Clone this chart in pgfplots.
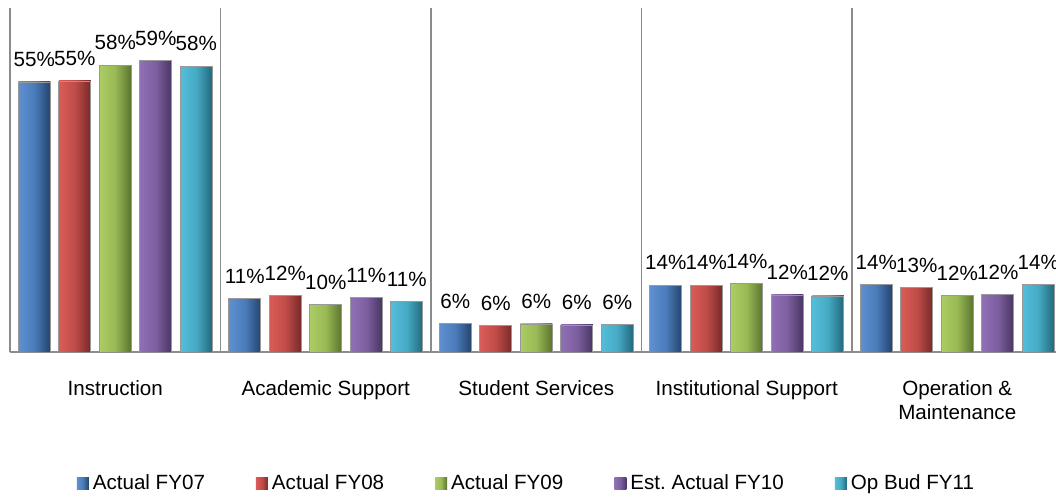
\documentclass[border=0pt]{standalone}
\usepackage{fontspec}
\setmainfont{Liberation Sans}
\usepackage{pgfplots}
\pgfplotsset{compat=1.18}
\usepackage{pgfplotstable}
\frenchspacing
\newcommand{\fs}{\fontsize{10.3}{11.6}\selectfont}
\definecolor{axgray}{RGB}{140,140,140}
\definecolor{bluL}{RGB}{95,145,210}\definecolor{bluM}{RGB}{74,124,186}\definecolor{bluD}{RGB}{36,68,110}
\definecolor{redL}{RGB}{218,92,88}\definecolor{redM}{RGB}{192,76,72}\definecolor{redD}{RGB}{120,42,40}
\definecolor{grnL}{RGB}{172,205,100}\definecolor{grnM}{RGB}{152,185,84}\definecolor{grnD}{RGB}{90,115,46}
\definecolor{purL}{RGB}{144,112,182}\definecolor{purM}{RGB}{125,95,160}\definecolor{purD}{RGB}{72,54,98}
\definecolor{cyaL}{RGB}{84,190,218}\definecolor{cyaM}{RGB}{70,170,196}\definecolor{cyaD}{RGB}{34,104,124}
\pgfplotsset{
 sA/.style={draw=black!40, line width=0.3pt, left color=bluL, right color=bluD, middle color=bluM},
 sB/.style={draw=black!40, line width=0.3pt, left color=redL, right color=redD, middle color=redM},
 sC/.style={draw=black!40, line width=0.3pt, left color=grnL, right color=grnD, middle color=grnM},
 sD/.style={draw=black!40, line width=0.3pt, left color=purL, right color=purD, middle color=purM},
 sE/.style={draw=black!40, line width=0.3pt, left color=cyaL, right color=cyaD, middle color=cyaM},
}

\pgfplotstableread{
x y lab
0 54.9 55
1 10.9 11
2 5.8 6
3 13.6 14
4 13.8 14
}\fyA
\pgfplotstableread{
x y lab
0 55.1 55
1 11.5 12
2 5.45 6
3 13.6 14
4 13.1 13
}\fyB
\pgfplotstableread{
x y lab
0 58.3 58
1 9.6 10
2 5.7 6
3 13.9 14
4 11.5 12
}\fyC
\pgfplotstableread{
x y lab
0 59.2 59
1 11.1 11
2 5.5 6
3 11.6 12
4 11.7 12
}\fyD
\pgfplotstableread{
x y lab
0 58.1 58
1 10.3 11
2 5.6 6
3 11.4 12
4 13.8 14
}\fyE

% one bar per \addplot so that each bar gets its own shading
\newcommand{\barset}[3]{%
 \pgfplotsinvokeforeach{0,1,2,3,4}{%
  \addplot[#1, bar shift=#2, forget plot] table[x=x,y=y,meta=lab, restrict x to domain=##1:##1] {#3};}}

\begin{document}
\begin{tikzpicture}
\begin{axis}[
 at={(0,0)}, anchor=south west,
 scale only axis, width=523pt, height=172pt,
 xmin=-0.5, xmax=4.469, ymin=0, ymax=69.92,
 ybar, bar width=16pt,
 axis x line*=bottom, axis y line*=left,
 axis line style={-, draw=axgray, line width=0.9pt},
 ytick=\empty,
 xtick={0,1,2,3,4},
 xticklabels={Instruction, Academic Support, Student Services, Institutional Support, {Operation \&\\Maintenance}},
 xticklabel style={align=center, yshift=-11pt, font=\fs, text=black},
 major tick length=0pt, minor tick length=0pt,
 minor xtick={0.5,1.5,2.5,3.5},
 xminorgrids, minor x grid style={draw=axgray, line width=0.9pt},
 point meta=explicit symbolic,
 nodes near coords={\pgfplotspointmeta\%},
 every node near coord/.append style={font=\fs, text=black, yshift=4pt},
 legend columns=5,
 legend style={draw=none, at={(0.4947,-0.381)}, anchor=center, font=\fs,
   /tikz/every even column/.append style={column sep=23.5pt}},
 legend image code/.code={\path[#1, draw=none] (0pt,-3pt) rectangle (6pt,3pt);},
]
\barset{sA}{-40.5pt}{\fyA}
\barset{sB}{-20.25pt}{\fyB}
\barset{sC}{0pt}{\fyC}
\barset{sD}{20.25pt}{\fyD}
\barset{sE}{40.5pt}{\fyE}
\addlegendimage{sA}\addlegendentry{Actual FY07}
\addlegendimage{sB}\addlegendentry{Actual FY08}
\addlegendimage{sC}\addlegendentry{Actual FY09}
\addlegendimage{sD}\addlegendentry{Est. Actual FY10}
\addlegendimage{sE}\addlegendentry{Op Bud FY11}
\end{axis}
\pgfresetboundingbox
\path[use as bounding box] (-5pt,-72.5pt) rectangle (523pt,176pt);
\end{tikzpicture}
\end{document}
